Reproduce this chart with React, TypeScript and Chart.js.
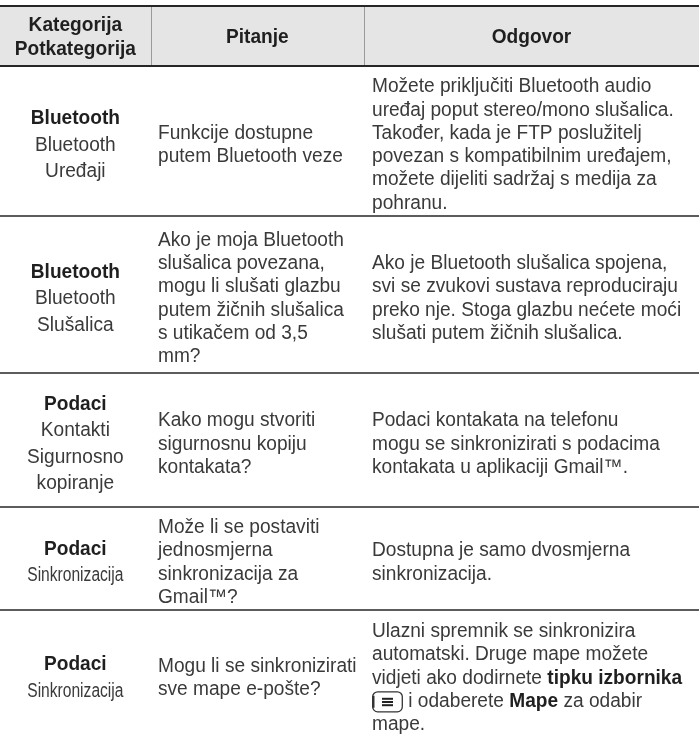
import React, { useEffect, useRef } from 'react';
import { Chart, registerables } from 'chart.js';

Chart.register(...registerables);

// ---- table content ----
const headerLabels: string[][] = [['Kategorija', 'Potkategorija'], ['Pitanje'], ['Odgovor']];

const categories: string[] = ['Bluetooth', 'Bluetooth', 'Podaci', 'Podaci', 'Podaci'];

const subcategories: string[][] = [
  ['Bluetooth', 'Uređaji'],
  ['Bluetooth', 'Slušalica'],
  ['Kontakti', 'Sigurnosno', 'kopiranje'],
  ['Sinkronizacija'],
  ['Sinkronizacija'],
];

const questions: string[][] = [
  ['Funkcije dostupne', 'putem Bluetooth veze'],
  ['Ako je moja Bluetooth', 'slušalica povezana,', 'mogu li slušati glazbu', 'putem žičnih slušalica', 's utikačem od 3,5', 'mm?'],
  ['Kako mogu stvoriti', 'sigurnosnu kopiju', 'kontakata?'],
  ['Može li se postaviti', 'jednosmjerna', 'sinkronizacija za', 'Gmail™?'],
  ['Mogu li se sinkronizirati', 'sve mape e-pošte?'],
];

const answers: string[][] = [
  [
    'Možete priključiti Bluetooth audio',
    'uređaj poput stereo/mono slušalica.',
    'Također, kada je FTP poslužitelj',
    'povezan s kompatibilnim uređajem,',
    'možete dijeliti sadržaj s medija za',
    'pohranu.',
  ],
  [
    'Ako je Bluetooth slušalica spojena,',
    'svi se zvukovi sustava reproduciraju',
    'preko nje. Stoga glazbu nećete moći',
    'slušati putem žičnih slušalica.',
  ],
  ['Podaci kontakata na telefonu', 'mogu se sinkronizirati s podacima', 'kontakata u aplikaciji Gmail™.'],
  ['Dostupna je samo dvosmjerna', 'sinkronizacija.'],
  [
    'Ulazni spremnik se sinkronizira',
    'automatski. Druge mape možete',
    'vidjeti ako dodirnete **tipku izbornika**',
    '[menu] i odaberete **Mape** za odabir',
    'mape.',
  ],
];

// ---- table grid (in scale units) ----
const columnEdges: number[] = [0, 150.7, 364, 699];
const rowEdges: number[] = [6, 66, 216, 373, 507, 610, 738];

// ---- styles ----
const FONT_FAMILY = '"Liberation Sans", Arial, Helvetica, sans-serif';
const FONT_SIZE = 19.5;
const CAP = 14;
const LINE_GAP = 23.3;
const CAT_LINE_GAP = 26.5;
const SCALE_X = 0.98;
const CONDENSED_SUB_ROWS = new Set([3, 4]);
const TEXT_COLOR = '#3a3a3a';
const BOLD_COLOR = '#1f1f1f';
const HEADER_BG = '#e5e5e5';

type Seg = { text: string; bold: boolean; icon?: boolean };

function parseLine(line: string): Seg[] {
  const parts = line.split(/(\*\*[^*]+\*\*|\[menu\])/).filter((p) => p.length > 0);
  return parts.map((p) => {
    if (p === '[menu]') return { text: '', bold: false, icon: true };
    if (p.startsWith('**')) return { text: p.slice(2, -2), bold: true };
    return { text: p, bold: false };
  });
}

const ICON_W = 31;

function fontFor(bold: boolean) {
  return `${bold ? 'bold ' : ''}${FONT_SIZE}px ${FONT_FAMILY}`;
}

function segWidth(ctx: CanvasRenderingContext2D, s: Seg, sx: number) {
  if (s.icon) return ICON_W;
  ctx.font = fontFor(s.bold);
  return ctx.measureText(s.text).width * sx;
}

function drawIcon(ctx: CanvasRenderingContext2D, x: number, baseline: number) {
  const top = baseline - 15;
  const h = 20;
  ctx.save();
  ctx.strokeStyle = '#333';
  ctx.lineWidth = 1.3;
  ctx.beginPath();
  (ctx as any).roundRect(x + 0.7, top, ICON_W - 1.4, h, 5);
  ctx.stroke();
  // thicker left edge
  ctx.lineWidth = 2.2;
  ctx.beginPath();
  ctx.moveTo(x + 1.4, top + 4);
  ctx.lineTo(x + 1.4, top + h - 4);
  ctx.stroke();
  ctx.fillStyle = '#222';
  const cx = x + ICON_W / 2;
  for (let i = 0; i < 3; i++) {
    ctx.fillRect(cx - 5.5, top + 6 + i * 3.2, 11, 2);
  }
  ctx.restore();
}

function drawLine(
  ctx: CanvasRenderingContext2D,
  line: string,
  x: number,
  baseline: number,
  align: 'left' | 'center',
  sx: number,
  forceBold: boolean,
  color: string
) {
  const segs = parseLine(line).map((s) => (forceBold ? { ...s, bold: true } : s));
  const total = segs.reduce((a, s) => a + segWidth(ctx, s, sx), 0);
  let cx = align === 'center' ? x - total / 2 : x;
  for (const s of segs) {
    const w = segWidth(ctx, s, sx);
    if (s.icon) {
      drawIcon(ctx, cx, baseline);
    } else {
      ctx.save();
      ctx.font = fontFor(s.bold);
      ctx.fillStyle = s.bold ? BOLD_COLOR : color;
      ctx.textBaseline = 'alphabetic';
      ctx.textAlign = 'left';
      ctx.translate(cx, baseline);
      ctx.scale(sx, 1);
      ctx.fillText(s.text, 0, 0);
      ctx.restore();
    }
    cx += w;
  }
}

const tablePlugin = {
  id: 'tablePlugin',
  beforeDraw(chart: any) {
    const ctx: CanvasRenderingContext2D = chart.ctx;
    ctx.save();
    ctx.fillStyle = '#ffffff';
    ctx.fillRect(0, 0, chart.width, chart.height);
    ctx.restore();
  },
  afterDraw(chart: any) {
    const ctx: CanvasRenderingContext2D = chart.ctx;
    const xs = chart.scales.x;
    const ys = chart.scales.y;
    const X = (v: number) => xs.getPixelForValue(v);
    const Y = (v: number) => ys.getPixelForValue(v);
    const left = X(columnEdges[0]);
    const right = X(columnEdges[columnEdges.length - 1]);

    ctx.save();
    // header background
    ctx.fillStyle = HEADER_BG;
    ctx.fillRect(left, Y(rowEdges[0]), right - left, Y(rowEdges[1]) - Y(rowEdges[0]));

    // header vertical dividers
    ctx.strokeStyle = '#9a9a9a';
    ctx.lineWidth = 1;
    for (let c = 1; c < columnEdges.length - 1; c++) {
      const x = Math.round(X(columnEdges[c])) + 0.5;
      ctx.beginPath();
      ctx.moveTo(x, Y(rowEdges[0]));
      ctx.lineTo(x, Y(rowEdges[1]));
      ctx.stroke();
    }

    // header top & bottom lines
    ctx.strokeStyle = '#262626';
    ctx.lineWidth = 2;
    [rowEdges[0], rowEdges[1]].forEach((v) => {
      const y = Y(v);
      ctx.beginPath();
      ctx.moveTo(left, y);
      ctx.lineTo(right, y);
      ctx.stroke();
    });

    // body separators
    ctx.strokeStyle = '#5c5c5c';
    ctx.lineWidth = 1.8;
    for (let r = 2; r < rowEdges.length - 1; r++) {
      const y = Y(rowEdges[r]);
      ctx.beginPath();
      ctx.moveTo(left, y);
      ctx.lineTo(right, y);
      ctx.stroke();
    }
    ctx.restore();

    const colCenter = (c: number) => (X(columnEdges[c]) + X(columnEdges[c + 1])) / 2;
    const colLeft = (c: number) => X(columnEdges[c]) + (c === 1 ? 7.3 : 8);

    // header text
    const hMid = (Y(rowEdges[0]) + Y(rowEdges[1])) / 2;
    headerLabels.forEach((lines, c) => {
      lines.forEach((t, i) => {
        const b = hMid + (i - (lines.length - 1) / 2) * LINE_GAP + CAP / 2;
        drawLine(ctx, t, colCenter(c), b, 'center', SCALE_X, true, BOLD_COLOR);
      });
    });

    // body rows
    categories.forEach((cat, r) => {
      const top = Y(rowEdges[r + 1]);
      const bottom = Y(rowEdges[r + 2]);
      const mid = (top + bottom) / 2 + 2.5;

      const col1 = [cat, ...subcategories[r]];
      col1.forEach((t, i) => {
        const b = mid + (i - (col1.length - 1) / 2) * CAT_LINE_GAP + CAP / 2;
        const sx = i > 0 && CONDENSED_SUB_ROWS.has(r) ? 0.8 : SCALE_X;
        drawLine(ctx, t, colCenter(0), b, 'center', sx, i === 0, TEXT_COLOR);
      });

      const q = questions[r];
      q.forEach((t, i) => {
        const b = mid + (i - (q.length - 1) / 2) * LINE_GAP + CAP / 2;
        drawLine(ctx, t, colLeft(1), b, 'left', SCALE_X, false, TEXT_COLOR);
      });

      const a = answers[r];
      a.forEach((t, i) => {
        const b = mid + (i - (a.length - 1) / 2) * LINE_GAP + CAP / 2;
        drawLine(ctx, t, colLeft(2), b, 'left', SCALE_X, false, TEXT_COLOR);
      });
    });
  },
};

export default function App() {
  const canvasRef = useRef<HTMLCanvasElement | null>(null);

  useEffect(() => {
    if (!canvasRef.current) return;
    const chart = new Chart(canvasRef.current, {
      type: 'scatter',
      data: { datasets: [{ data: [] }] },
      options: {
        animation: false,
        responsive: false,
        devicePixelRatio: 1,
        events: [],
        layout: { padding: 0 },
        plugins: { legend: { display: false }, tooltip: { enabled: false } },
        scales: {
          x: { type: 'linear', min: columnEdges[0], max: columnEdges[columnEdges.length - 1], display: false },
          y: { type: 'linear', min: 0, max: 734, reverse: true, display: false },
        },
      },
      plugins: [tablePlugin],
    } as any);
    return () => chart.destroy();
  }, []);

  return (
    <div style={{ position: 'absolute', left: 0, top: 0, width: 699, height: 734, background: '#fff' }}>
      <canvas ref={canvasRef} width={699} height={734} style={{ display: 'block' }} />
    </div>
  );
}
